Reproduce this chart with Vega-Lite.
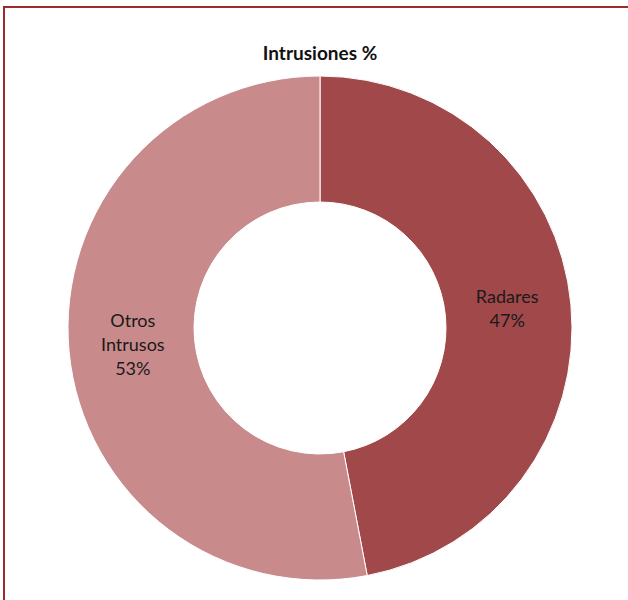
{
  "$schema": "https://vega.github.io/schema/vega-lite/v6.json",
  "width": 632,
  "height": 642,
  "autosize": {"type": "none"},
  "padding": {"left": 4, "top": 7, "right": 0, "bottom": 0},
  "background": "white",
  "view": {"stroke": "#9E2A2B", "strokeWidth": 2},
  "title": {
    "text": "Intrusiones %",
    "font": "Lato",
    "fontSize": 19,
    "fontWeight": "bold",
    "color": "#111111",
    "offset": -57
  },
  "data": {
    "values": [
      {"category": "Radares", "value": 47},
      {"category": "Otros Intrusos", "value": 53}
    ]
  },
  "transform": [
    {"stack": "value", "groupby": [], "as": ["v0", "v1"], "sort": [{"field": "category", "order": "descending"}]},
    {"calculate": "(datum.v0 + datum.v1) / 2", "as": "mid"},
    {"calculate": "datum.category + ' ' + datum.value + '%'", "as": "label"}
  ],
  "layer": [
    {
      "mark": {"type": "arc", "outerRadius": 252, "innerRadius": 126, "stroke": "#ffffff", "strokeWidth": 1},
      "encoding": {
        "theta": {"field": "v0", "type": "quantitative", "scale": {"domain": [0, 100]}},
        "theta2": {"field": "v1"},
        "color": {
          "field": "category",
          "type": "nominal",
          "scale": {"domain": ["Radares", "Otros Intrusos"], "range": ["#A1484A", "#C98A8B"]},
          "legend": null
        }
      }
    },
    {
      "transform": [{"filter": "datum.category === 'Radares'"}],
      "mark": {
        "type": "text",
        "radius": 188,
        "dy": -12,
        "font": "Lato",
        "fontSize": 18,
        "lineBreak": " ",
        "lineHeight": 24,
        "baseline": "middle",
        "align": "center",
        "color": "#1a1a1a"
      },
      "encoding": {
        "theta": {"field": "mid", "type": "quantitative", "scale": {"domain": [0, 100]}},
        "text": {"field": "label", "type": "nominal"}
      }
    },
    {
      "transform": [{"filter": "datum.category === 'Otros Intrusos'"}],
      "mark": {
        "type": "text",
        "radius": 188,
        "dy": -24,
        "font": "Lato",
        "fontSize": 18,
        "lineBreak": " ",
        "lineHeight": 24,
        "baseline": "middle",
        "align": "center",
        "color": "#1a1a1a"
      },
      "encoding": {
        "theta": {"field": "mid", "type": "quantitative", "scale": {"domain": [0, 100]}},
        "text": {"field": "label", "type": "nominal"}
      }
    }
  ]
}
